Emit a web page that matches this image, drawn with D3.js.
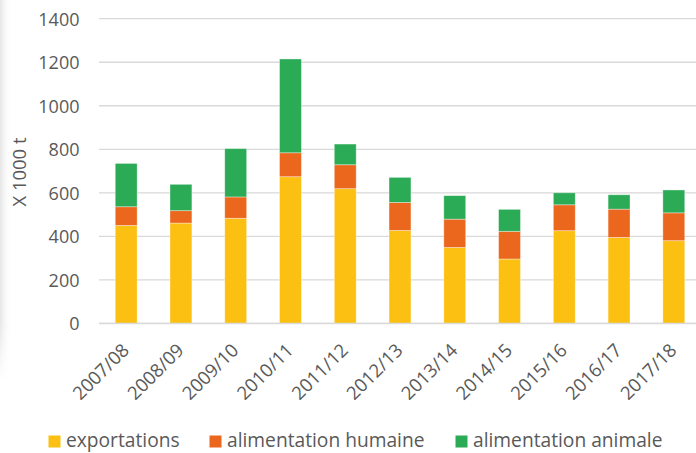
<!DOCTYPE html>
<html>
<head>
<meta charset="utf-8">
<script src="https://cdn.jsdelivr.net/npm/d3@7"></script>
<style>
  html, body { margin: 0; padding: 0; background: #fff; }
  svg { display: block; }
  text { font-family: "Open Sans", sans-serif; fill: #595959; }
</style>
</head>
<body>
<svg id="chart" width="696" height="453"></svg>
<script>
const categories = ["2007/08","2008/09","2009/10","2010/11","2011/12","2012/13","2013/14","2014/15","2015/16","2016/17","2017/18"];
const exportations = [450, 461, 483, 674, 619, 427, 349, 296, 426, 395, 380];
const alimentationHumaine = [86, 57, 98, 110, 110, 129, 130, 127, 119, 130, 128];
const alimentationAnimale = [199, 121, 222, 431, 95, 115, 108, 101, 55, 66, 105];
const seriesNames = ["exportations", "alimentation humaine", "alimentation animale"];
const seriesColors = ["#FCC012", "#EC671E", "#2BAB55"];
const yTicks = [0, 200, 400, 600, 800, 1000, 1200, 1400];
const yTitle = "X 1000 t";

const svg = d3.select("#chart");

// subtle left shadow (from the screenshot edge)
const defs = svg.append("defs");
const lg = defs.append("linearGradient").attr("id", "shade").attr("x1", "0").attr("x2", "1").attr("y1", "0").attr("y2", "0");
lg.append("stop").attr("offset", "0").attr("stop-color", "#e6e6e6").attr("stop-opacity", 1);
lg.append("stop").attr("offset", "1").attr("stop-color", "#ffffff").attr("stop-opacity", 0);
const lg2 = defs.append("linearGradient").attr("id", "shadeV").attr("x1", "0").attr("x2", "0").attr("y1", "0").attr("y2", "1");
lg2.append("stop").attr("offset", "0").attr("stop-color", "#fff").attr("stop-opacity", 0);
lg2.append("stop").attr("offset", "0.85").attr("stop-color", "#fff").attr("stop-opacity", 0);
lg2.append("stop").attr("offset", "1").attr("stop-color", "#fff").attr("stop-opacity", 1);
svg.append("rect").attr("x", 0).attr("y", 0).attr("width", 12).attr("height", 380).attr("fill", "url(#shade)");
svg.append("rect").attr("x", 0).attr("y", 0).attr("width", 12).attr("height", 380).attr("fill", "url(#shadeV)");

const x = d3.scaleBand().domain(categories).range([98.8, 701.2]).paddingInner(0.6).paddingOuter(0.3);
const y = d3.scaleLinear().domain([0, 1400]).range([323.4, 18.7]);

// gridlines
svg.append("g")
  .selectAll("line")
  .data(yTicks)
  .join("line")
  .attr("x1", 99).attr("x2", 696)
  .attr("y1", d => y(d)).attr("y2", d => y(d))
  .attr("stroke", "#d9d9d9")
  .attr("stroke-width", 1.3);

// y tick labels
const yAxis = d3.axisLeft(y).tickValues(yTicks).tickFormat(d3.format("d")).tickSize(0).tickPadding(0);
const gy = svg.append("g").attr("transform", "translate(79.5,0)").call(yAxis);
gy.select(".domain").remove();
gy.selectAll("text")
  .attr("font-family", "Open Sans, sans-serif")
  .attr("font-size", 18)
  .attr("fill", "#595959")
  .attr("dy", "0.35em");

// stacked bars
const rows = categories.map((c, i) => ({
  cat: c,
  [seriesNames[0]]: exportations[i],
  [seriesNames[1]]: alimentationHumaine[i],
  [seriesNames[2]]: alimentationAnimale[i]
}));
const stack = d3.stack().keys(seriesNames)(rows);
svg.append("g")
  .selectAll("g")
  .data(stack)
  .join("g")
  .attr("fill", (d, i) => seriesColors[i])
  .selectAll("rect")
  .data(d => d)
  .join("rect")
  .attr("x", d => x(d.data.cat))
  .attr("width", x.bandwidth())
  .attr("y", d => y(d[1]))
  .attr("height", d => y(d[0]) - y(d[1]))
  .attr("stroke", "#ffffff")
  .attr("stroke-opacity", 0.45)
  .attr("stroke-width", 0.8);

// x axis baseline
svg.append("line")
  .attr("x1", 99).attr("x2", 696)
  .attr("y1", y(0)).attr("y2", y(0))
  .attr("stroke", "#d9d9d9").attr("stroke-width", 1.5);

// x labels rotated
const xAxis = d3.axisBottom(x).tickSize(0).tickPadding(0);
const gx = svg.append("g").attr("transform", "translate(0," + y(0) + ")").call(xAxis);
gx.select(".domain").remove();
gx.selectAll("text")
  .attr("font-family", "Open Sans, sans-serif")
  .attr("font-size", 18.5)
  .attr("fill", "#595959")
  .attr("text-anchor", "end")
  .attr("dy", null)
  .attr("y", null)
  .attr("transform", "translate(4,28) rotate(-45)");

// y title
svg.append("text")
  .attr("transform", "translate(26,172) rotate(-90)")
  .attr("text-anchor", "middle")
  .attr("font-size", 18.5)
  .text(yTitle);

// legend
const legendX = [48.5, 209.5, 455.5];
const lgd = svg.append("g").selectAll("g").data(seriesNames).join("g")
  .attr("transform", (d, i) => "translate(" + legendX[i] + ",435.5)");
lgd.append("rect").attr("width", 12).attr("height", 12).attr("fill", (d, i) => seriesColors[i]);
lgd.append("text").attr("x", 17.5).attr("y", 11.5).attr("font-size", 19.2).text(d => d);
</script>
</body>
</html>
